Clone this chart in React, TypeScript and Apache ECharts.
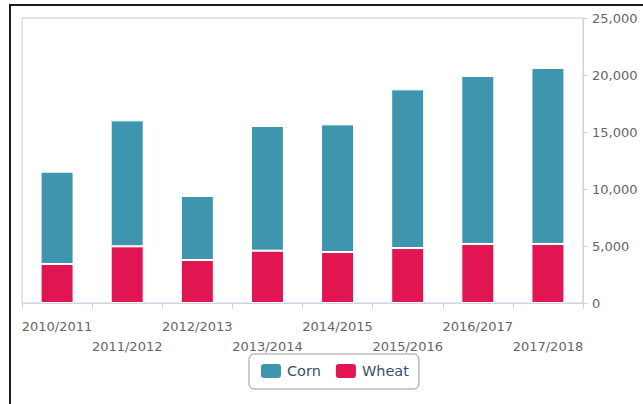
import React, { useEffect, useRef } from "react";
import * as echarts from "echarts";

const categories = [
  "2010/2011",
  "2011/2012",
  "2012/2013",
  "2013/2014",
  "2014/2015",
  "2015/2016",
  "2016/2017",
  "2017/2018",
];
const wheat = [3420, 4970, 3770, 4590, 4470, 4820, 5180, 5180];
const corn = [8100, 11050, 5620, 10940, 11200, 13920, 14730, 15440];
const yTicks = { min: 0, max: 25000, interval: 5000 };

const FONT = "DejaVu Sans";

export default function App() {
  const ref = useRef<HTMLDivElement>(null);

  useEffect(() => {
    if (!ref.current) return;
    const chart = echarts.init(ref.current, undefined, { renderer: "svg" });
    chart.setOption({
      animation: false,
      textStyle: { fontFamily: FONT },
      grid: {
        left: 22,
        right: 60,
        top: 18,
        bottom: 101,
        show: true,
        borderColor: "#cccccc",
        borderWidth: 1,
        containLabel: false,
      },
      legend: {
        data: ["Corn", "Wheat"],
        left: 249,
        top: 354,
        orient: "horizontal",
        backgroundColor: "#ffffff",
        borderColor: "#999999",
        borderWidth: 1,
        borderRadius: 5,
        padding: [8, 10, 9, 10],
        itemWidth: 22,
        itemHeight: 16,
        itemGap: 13,
        icon: "roundRect",
        textStyle: { color: "#3a4f66", fontSize: 14.5, fontFamily: FONT },
      },
      xAxis: {
        type: "category",
        data: categories,
        axisLine: { show: true, lineStyle: { color: "#ccd6eb", width: 1 } },
        axisTick: { show: true, length: 6, lineStyle: { color: "#ccd6eb" } },
        axisLabel: {
          interval: 0,
          color: "#666666",
          fontSize: 13,
          fontFamily: FONT,
          margin: 13,
          lineHeight: 20,
          formatter: (v: string, i: number) => (i % 2 ? "\n" + v : v),
        },
        splitLine: { show: false },
      },
      yAxis: {
        type: "value",
        position: "right",
        min: yTicks.min,
        max: yTicks.max,
        interval: yTicks.interval,
        axisLine: { show: true, lineStyle: { color: "#ccd6eb", width: 1 } },
        axisTick: { show: true, length: 5, lineStyle: { color: "#ccd6eb" } },
        axisLabel: {
          color: "#666666",
          fontSize: 13,
          fontFamily: FONT,
          margin: 9,
          formatter: (v: number) => v.toLocaleString("en-US"),
        },
        splitLine: { show: false },
      },
      series: [
        {
          name: "Wheat",
          type: "bar",
          stack: "total",
          data: wheat,
          barWidth: 33,
          itemStyle: { color: "#e11551", borderColor: "#ffffff", borderWidth: 1 },
        },
        {
          name: "Corn",
          type: "bar",
          stack: "total",
          data: corn,
          barWidth: 33,
          itemStyle: { color: "#3e96ae", borderColor: "#ffffff", borderWidth: 1 },
        },
      ],
    });
    return () => chart.dispose();
  }, []);

  return (
    <div
      style={{
        position: "fixed",
        left: 0,
        top: 0,
        width: 643,
        height: 404,
        background: "#ffffff",
        overflow: "hidden",
      }}
    >
      <div ref={ref} style={{ position: "absolute", left: 0, top: 0, width: 643, height: 404 }} />
      <div
        style={{
          position: "absolute",
          left: 9,
          top: 4,
          width: 660,
          height: 420,
          borderLeft: "2px solid #1a1a1a",
          borderTop: "2px solid #1a1a1a",
          pointerEvents: "none",
        }}
      />
    </div>
  );
}
